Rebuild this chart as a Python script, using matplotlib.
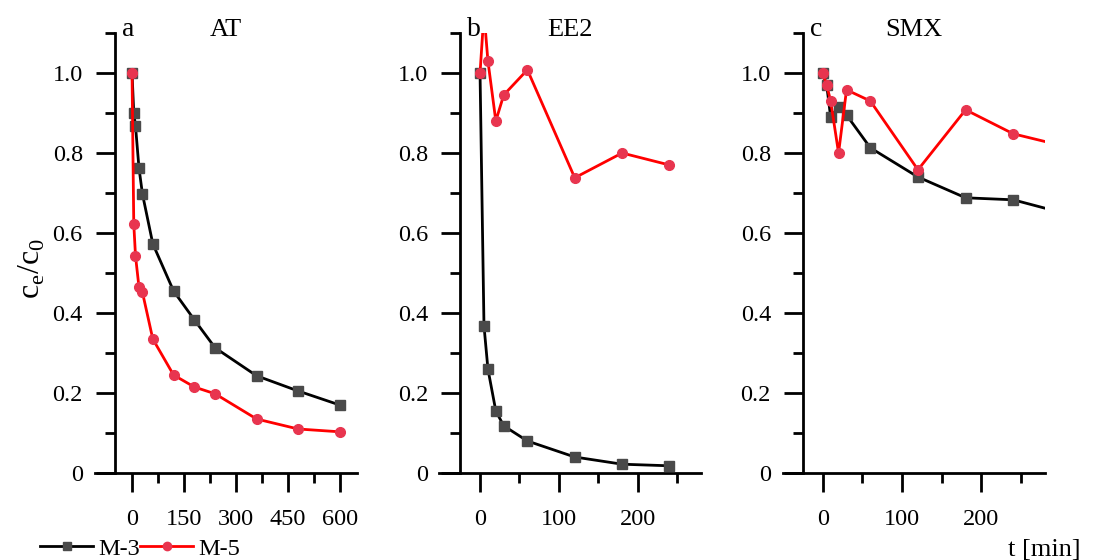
import matplotlib
matplotlib.use("Agg")
import matplotlib.pyplot as plt
from matplotlib.lines import Line2D

plt.rcParams['font.family'] = ['Liberation Serif', 'DejaVu Serif']
plt.rcParams['mathtext.fontset'] = 'custom'
plt.rcParams['mathtext.rm'] = 'Liberation Serif'

# --- data ---
t_at = [0, 5, 10, 20, 30, 60, 120, 180, 240, 360, 480, 600]
m3_at = [1.0, 0.90, 0.868, 0.763, 0.698, 0.573, 0.455, 0.383, 0.313, 0.243, 0.205, 0.17]
m5_at = [1.0, 0.623, 0.543, 0.465, 0.452, 0.335, 0.245, 0.215, 0.198, 0.135, 0.11, 0.103]

t_ee2 = [0, 5, 10, 20, 30, 60, 120, 180, 240]
m3_ee2 = [1.0, 0.368, 0.26, 0.155, 0.118, 0.08, 0.04, 0.022, 0.018]
m5_ee2 = [1.0, 1.15, 1.03, 0.88, 0.945, 1.008, 0.738, 0.80, 0.77]

t_smx = [0, 5, 10, 20, 30, 60, 120, 180, 240, 360]
m3_smx = [1.0, 0.97, 0.89, 0.915, 0.895, 0.813, 0.74, 0.688, 0.683, 0.62]
m5_smx = [1.0, 0.97, 0.93, 0.80, 0.958, 0.93, 0.758, 0.908, 0.848, 0.79]

panels = [
    ('a', 'AT', t_at, m3_at, m5_at),
    ('b', 'EE2', t_ee2, m3_ee2, m5_ee2),
    ('c', 'SMX', t_smx, m3_smx, m5_smx),
]
xlims = [(-107, 650), (-52, 280), (-50, 280)]
yaxis_at = [-50, -25, -25]
xmajor = [[0, 150, 300, 450, 600], [0, 100, 200], [0, 100, 200]]
xminor = [[75, 225, 375, 525], [50, 150, 250], [50, 150, 250]]

yticks = [0, 0.2, 0.4, 0.6, 0.8, 1.0]
ytick_labels = ['0', '0.2', '0.4', '0.6', '0.8', '1.0']
yminor = [0.1, 0.3, 0.5, 0.7, 0.9, 1.1]

BLACK = '#000000'
SQ = '#4a4a4a'
RED = '#ff0000'
CIRC = '#e8354f'

fig = plt.figure(figsize=(11.09, 5.6), dpi=100)
lefts = [95 / 1109, 439 / 1109, 783 / 1109]
width = 262 / 1109
bottom = (560 - 473) / 560
height = 440 / 560

for i, (letter, name, t, m3, m5) in enumerate(panels):
    ax = fig.add_axes([lefts[i], bottom, width, height])
    ax.plot(t, m3, color=BLACK, lw=2.0, marker='s', ms=7,
            mfc=SQ, mec=SQ, zorder=3)
    ax.plot(t, m5, color=RED, lw=2.0, marker='o', ms=7,
            mfc=CIRC, mec=CIRC, zorder=4)

    ax.set_xlim(*xlims[i])
    ax.set_ylim(0, 1.1)
    for s in ['top', 'right']:
        ax.spines[s].set_visible(False)
    ax.spines['left'].set_position(('data', yaxis_at[i]))
    ax.spines['left'].set_linewidth(2.0)
    ax.spines['bottom'].set_linewidth(2.0)

    ax.set_xticks(xmajor[i])
    ax.set_xticks(xminor[i], minor=True)
    ax.set_yticks(yticks)
    ax.set_yticklabels(ytick_labels)
    ax.set_yticks(yminor, minor=True)
    ax.tick_params(which='major', length=14, width=2.0, labelsize=17.5, pad=9)
    ax.tick_params(which='minor', length=7, width=2.0)
    ax.tick_params(axis='x', which='major', pad=12)

    ax.text(yaxis_at[i], 1.108, ' ' + letter, fontsize=20, ha='left', va='center')
    ax.text(0.5, 1.108, name, transform=ax.get_yaxis_transform(),
            fontsize=19, ha='center', va='center')

fig.text(0.029, 0.52, r'c$_\mathregular{e}$/c$_\mathregular{0}$',
         rotation=90, fontsize=23, ha='center', va='center')
fig.text(0.942, 0.018, 't [min]', fontsize=19, ha='center', va='center')

handles = [
    Line2D([], [], color=BLACK, lw=2.0, marker='s', ms=6, mfc=SQ, mec=SQ),
    Line2D([], [], color=RED, lw=2.0, marker='o', ms=6, mfc=CIRC, mec=CIRC),
]
fig.legend(handles, ['M-3', 'M-5'], loc='center left', bbox_to_anchor=(0.036, 0.02),
           ncol=2, frameon=False, fontsize=17.5, handlelength=2.2,
           handletextpad=0.2, columnspacing=0.0, borderpad=0, borderaxespad=0)

fig.savefig('out.png', dpi=100)
